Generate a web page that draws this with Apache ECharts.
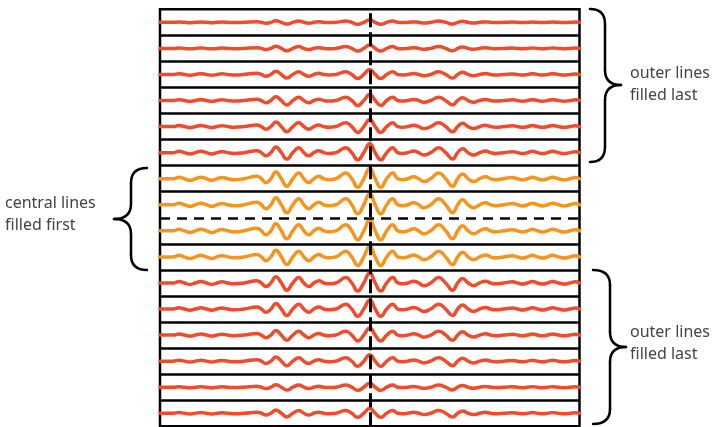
<!DOCTYPE html>
<html>
<head>
<meta charset="utf-8">
<script src="https://cdn.jsdelivr.net/npm/echarts@6/dist/echarts.min.js"></script>
<style>html,body{margin:0;padding:0;background:#fff}#c{width:725px;height:427px}</style>
</head>
<body>
<div id="c"></div>
<script>
// Horizontal sample positions (px offset from the central dashed line) and the
// echo waveform read from the central (orange) rows, in px (up = positive):
// peaks, troughs and the crossings of the row's centre line
const profileX = [-210,-197,-191,-185.5,-180,-174.5,-169,-163.5,-158,-153,-148,-142,-136,-126,-113,-108.5,-104,-99,-94,-88.5,-83,-77,-71,-66,-61,-56,-51,-46,-41,-34,-24,-18,-12,-6,0,5.5,11,17,23,28,33,38,44,49,54,61,69,76,83,88,93,98.5,104,110,116,121,126,134,143,148,153,158,163,168,173,178,183,189,195,200.5,206,210];
const profileY = [0,0,1.6,0,-1.6,0,1.6,0,-1.6,0,1.3,0,-1,0,2.5,0,-4,0,7,0,-8,0,6,0,-4,0,2.5,0,-1,0,6,0,-9,0,11,0,-9,0,6,0,-1,0,2,0,-3,0,6,0,-8,0,5,0,-3,0,2,0,-1,0,1.2,0,-1.2,0,1.6,0,-1.2,0,1.6,0,-1.2,0,1.2,0];
// Relative signal strength of each of the 16 k-space lines, top to bottom
const rowAmp = [0.22,0.3,0.45,0.55,0.65,0.8,0.95,1.0,1.0,0.95,0.9,0.8,0.65,0.58,0.35,0.45];
// Which lines belong to the "central" group (filled first)
const rowGroup = ['outer','outer','outer','outer','outer','outer','central','central','central','central','outer','outer','outer','outer','outer','outer'];
// Annotation texts
const rightTopLabel = ['outer lines','filled last'];
const rightBottomLabel = ['outer lines','filled last'];
const leftLabel = ['central lines','filled first'];

const COLORS = {outer:'#F04B2B', central:'#F7941E'};
const LEFT = 160, TOP = 9.3, WIDTH = 419.5, HEIGHT = 417;
const ROWS = rowAmp.length, RH = HEIGHT / ROWS;

const grids = [], xAxes = [], yAxes = [], series = [];
grids.push({left:LEFT, top:TOP, width:WIDTH, height:HEIGHT, show:true, borderColor:'#000', borderWidth:2.5, backgroundColor:'transparent'});
xAxes.push({gridIndex:0, type:'value', min:-210, max:210, show:false});
yAxes.push({gridIndex:0, type:'value', min:0, max:ROWS, show:false});
const mlData = [];
for (let i = 1; i < ROWS; i++) {
  if (i === ROWS/2) mlData.push({yAxis:i, lineStyle:{type:[10,7], width:2.5, color:'#000'}});
  else mlData.push({yAxis:i, lineStyle:{type:'solid', width:2.5, color:'#000'}});
}
mlData.push({xAxis:0, lineStyle:{type:[14,5], width:3, color:'#000'}});
series.push({type:'line', xAxisIndex:0, yAxisIndex:0, data:[[0,0]], showSymbol:false, lineStyle:{opacity:0}, z:10, silent:true,
  markLine:{silent:true, symbol:'none', label:{show:false}, z:10, animation:false, data:mlData}});

for (let r = 0; r < ROWS; r++) {
  const gi = r + 1;
  grids.push({left:LEFT, top:TOP + r*RH, width:WIDTH, height:RH, show:false});
  xAxes.push({gridIndex:gi, type:'value', min:-210, max:210, show:false});
  yAxes.push({gridIndex:gi, type:'value', min:-13, max:13, show:false});
  series.push({
    type:'line', xAxisIndex:gi, yAxisIndex:gi, smooth:0.5, showSymbol:false, silent:true, z:3,
    lineStyle:{color:COLORS[rowGroup[r]], width:3.5, cap:'round', join:'round'},
    data: profileX.map((x,i) => [x, profileY[i]*rowAmp[r]])
  });
}

// curly brace built from lines and quadratic curves
function brace(xEnd, xBar, xTip, yTop, yMid, yBot) {
  const r = 15, s = {stroke:'#000', lineWidth:2.5, fill:null, lineCap:'round'};
  const bx = xBar, ex = xEnd;
  return [
    {type:'bezierCurve', shape:{x1:ex, y1:yTop, cpx1:bx, cpy1:yTop, x2:bx, y2:yTop+r}, style:s},
    {type:'line', shape:{x1:bx, y1:yTop+r, x2:bx, y2:yMid-r}, style:s},
    {type:'bezierCurve', shape:{x1:bx, y1:yMid-r, cpx1:bx, cpy1:yMid, x2:xTip, y2:yMid}, style:s},
    {type:'bezierCurve', shape:{x1:xTip, y1:yMid, cpx1:bx, cpy1:yMid, x2:bx, y2:yMid+r}, style:s},
    {type:'line', shape:{x1:bx, y1:yMid+r, x2:bx, y2:yBot-r}, style:s},
    {type:'bezierCurve', shape:{x1:bx, y1:yBot-r, cpx1:bx, cpy1:yBot, x2:ex, y2:yBot}, style:s}
  ];
}

const textStyle = {fill:'#444', font:'16px "Noto Sans"'};
const graphic = [].concat(
  brace(590, 605, 621, 9, 85, 162),
  brace(593, 610, 626, 270, 347, 424),
  brace(147, 131, 114, 168, 219, 270),
  [
    {type:'text', left:630, top:65, style:Object.assign({text:rightTopLabel[0]}, textStyle)},
    {type:'text', left:630, top:87, style:Object.assign({text:rightTopLabel[1]}, textStyle)},
    {type:'text', left:630, top:324, style:Object.assign({text:rightBottomLabel[0]}, textStyle)},
    {type:'text', left:630, top:346, style:Object.assign({text:rightBottomLabel[1]}, textStyle)},
    {type:'text', left:5, top:195, style:Object.assign({text:leftLabel[0]}, textStyle)},
    {type:'text', left:5, top:217, style:Object.assign({text:leftLabel[1]}, textStyle)}
  ]
);

const chart = echarts.init(document.getElementById('c'), null, {renderer:'canvas'});
chart.setOption({animation:false, grid:grids, xAxis:xAxes, yAxis:yAxes, series:series, graphic:graphic});
</script>
</body>
</html>
